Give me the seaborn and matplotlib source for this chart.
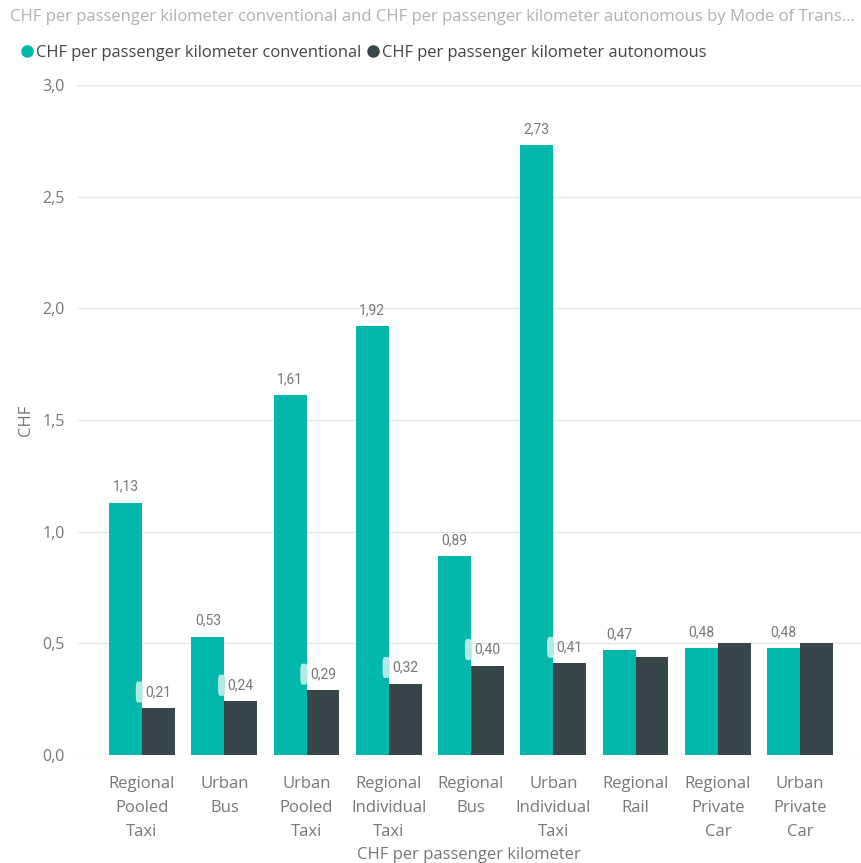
import matplotlib
matplotlib.use("Agg")
import matplotlib.pyplot as plt
import seaborn as sns
import pandas as pd
from matplotlib.lines import Line2D
from matplotlib.patches import FancyBboxPatch

categories = ["Regional\nPooled\nTaxi", "Urban\nBus", "Urban\nPooled\nTaxi", "Regional\nIndividual\nTaxi",
              "Regional\nBus", "Urban\nIndividual\nTaxi", "Regional\nRail", "Regional\nPrivate\nCar",
              "Urban\nPrivate\nCar"]
conventional = [1.13, 0.53, 1.61, 1.92, 0.89, 2.73, 0.47, 0.48, 0.48]
autonomous = [0.21, 0.24, 0.29, 0.32, 0.40, 0.41, 0.44, 0.50, 0.50]
show_auto_label = [True, True, True, True, True, True, False, False, False]
series = ["CHF per passenger kilometer conventional", "CHF per passenger kilometer autonomous"]
colors = ["#01B8AA", "#374649"]
yticks = [0.0, 0.5, 1.0, 1.5, 2.0, 2.5, 3.0]

df = pd.DataFrame({
    "cat": categories * 2,
    "val": conventional + autonomous,
    "series": [series[0]] * len(categories) + [series[1]] * len(categories),
})

sns.set_theme(style="white")
plt.rcParams["font.family"] = ["Open Sans", "DejaVu Sans"]

fig = plt.figure(figsize=(8.61, 8.63), dpi=100)
ax = fig.add_axes([77 / 861, 1 - 755 / 863, (861 - 77) / 861, 670 / 863])
sns.barplot(data=df, x="cat", y="val", hue="series", palette=colors, width=0.8,
            saturation=1, ax=ax, legend=False, edgecolor="none", linewidth=0)

ax.set_ylim(0, 3.0)
ax.set_xlim(-0.79, 8.74)
ax.set_yticks(yticks)
ax.set_yticklabels([f"{v:.1f}".replace(".", ",") for v in yticks], color="#777777", fontsize=11.5)
ax.set_xticks(range(len(categories)))
ax.set_xticklabels(categories, color="#777777", fontsize=12, linespacing=1.66)
ax.tick_params(axis="x", length=0, pad=15)
ax.tick_params(axis="y", length=0, pad=9)
ax.yaxis.grid(True, color="#e6e6e6", linewidth=1)
ax.set_axisbelow(True)
for s in ax.spines.values():
    s.set_visible(False)
ax.set_xlabel("CHF per passenger kilometer", color="#777777", fontsize=12, labelpad=5)
ax.set_ylabel("CHF", color="#777777", fontsize=12, labelpad=6)

lab_font = dict(family=["Roboto", "DejaVu Sans"], fontsize=10, color="#777777")
for i, v in enumerate(conventional):
    ax.annotate(f"{v:.2f}".replace(".", ","), (i - 0.2, v), xytext=(0, 16), textcoords="offset pixels",
                ha="center", va="center", **lab_font)
for i, v in enumerate(autonomous):
    if show_auto_label[i]:
        ax.annotate(f"{v:.2f}".replace(".", ","), (i + 0.2, v), xytext=(0, 16), textcoords="offset pixels",
                    ha="center", va="center", **lab_font)
        ax.add_patch(FancyBboxPatch((i - 0.075, v + 0.072 - 0.047), 0.085, 0.094,
                                    boxstyle="round,pad=0,rounding_size=0.025", mutation_aspect=1,
                                    facecolor="#b3e9e5", edgecolor="none", zorder=3))

fig.text(0.012, 0.98, "CHF per passenger kilometer conventional and CHF per passenger kilometer autonomous by Mode of Trans...",
         color="#b0b0b0", fontsize=12, va="center", ha="left")
handles = [Line2D([0], [0], marker="o", linestyle="none", markersize=9, markerfacecolor=c,
                  markeredgecolor="none") for c in colors]
fig.legend(handles, series, loc="center left", bbox_to_anchor=(0.003, 0.9386), ncol=2, frameon=False,
           handletextpad=0.0, columnspacing=0.2, fontsize=11.9, labelcolor="#444444", handlelength=1.1)

fig.savefig("out.png", dpi=100)
